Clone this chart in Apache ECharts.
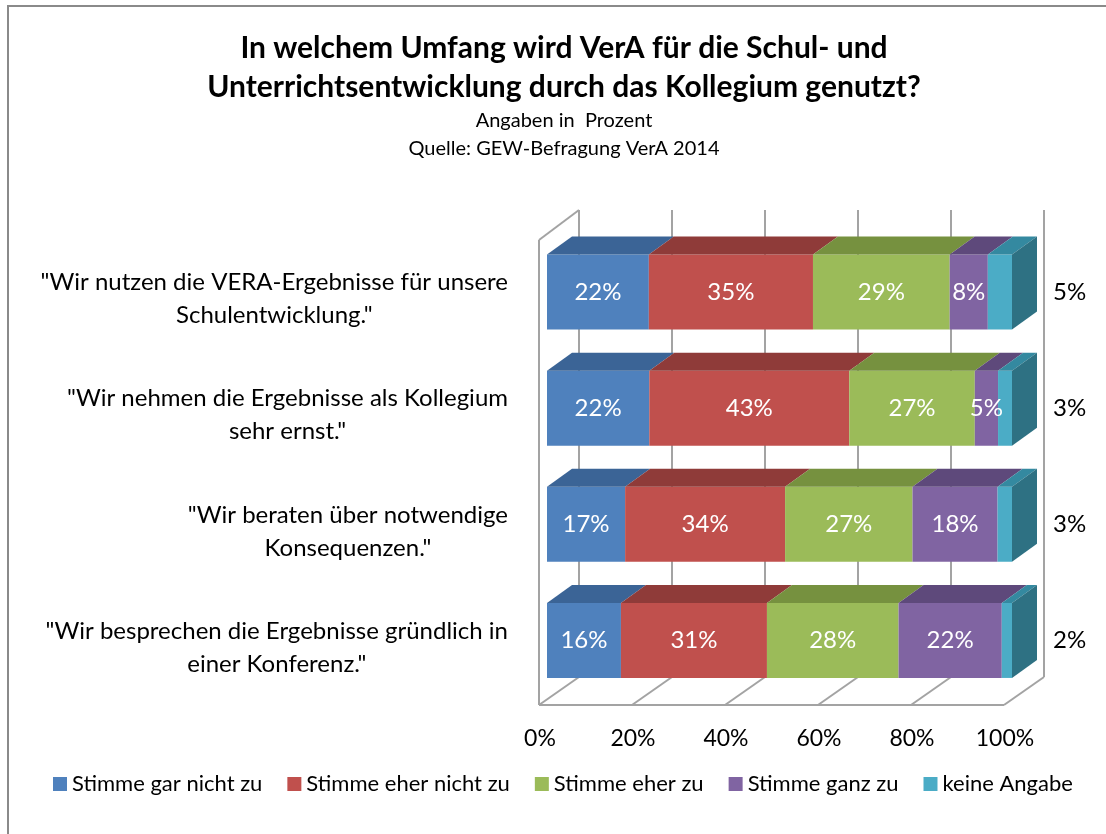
<!DOCTYPE html>
<html>
<head>
<meta charset="utf-8">
<script src="https://cdn.jsdelivr.net/npm/echarts@6/dist/echarts.min.js"></script>
<style>
html, body { margin: 0; padding: 0; background: #fff; }
#chart { width: 1106px; height: 834px; }
</style>
</head>
<body>
<div id="chart"></div>
<script>
// Kategorien (von oben nach unten)
var categories = [
    '"Wir nutzen die VERA-Ergebnisse für unsere\nSchulentwicklung."',
    '"Wir nehmen die Ergebnisse als Kollegium\nsehr ernst."',
    '"Wir beraten über notwendige\nKonsequenzen."',
    '"Wir besprechen die Ergebnisse gründlich in\neiner Konferenz."'
];
var seriesNames = ['Stimme gar nicht zu', 'Stimme eher nicht zu', 'Stimme eher zu', 'Stimme ganz zu', 'keine Angabe'];

// Werte in Prozent (aus der Grafik geschätzt, Beschriftung gerundet)
var garNichtZu  = [21.9, 22, 16.8, 15.9];
var eherNichtZu = [35.3, 43, 34.4, 31.4];
var eherZu      = [29.4, 27, 27.4, 28.3];
var ganzZu      = [8.2, 5, 18.3, 22.2];
var keineAngabe = [5.2, 3, 3.1, 2.2];
var ticks = [0, 20, 40, 60, 80, 100];

var colors    = ['#4f81bd', '#c0504d', '#9bbb59', '#8064a2', '#4bacc6'];
var topColors = ['#3b6496', '#8f3b39', '#76913f', '#5e497b', '#3489a0'];
var sideColor = '#2e7183';
var FONT = 'Lato';
var BAR_W = 75, DX = 25, DY = 18;

var allValues = [garNichtZu, eherNichtZu, eherZu, ganzZu, keineAngabe];

// Daten für die 3D-Flächen (Oberseite + rechte Seite)
var faceData = [];
categories.forEach(function (c, i) {
    var start = 0;
    allValues.forEach(function (arr, s) {
        faceData.push([start, start + arr[i], i, s]);
        start += arr[i];
    });
});

function renderFace(params, api) {
    var i = api.value(2), s = api.value(3);
    var a = api.coord([api.value(0), i]);
    var b = api.coord([api.value(1), i]);
    var yTop = a[1] - BAR_W / 2, yBot = a[1] + BAR_W / 2;
    var children = [{
        type: 'polygon',
        shape: { points: [[a[0], yTop], [b[0], yTop], [b[0] + DX, yTop - DY], [a[0] + DX, yTop - DY]] },
        style: { fill: topColors[s] }
    }];
    if (s === allValues.length - 1) {
        children.push({
            type: 'polygon',
            shape: { points: [[b[0], yTop], [b[0] + DX, yTop - DY], [b[0] + DX, yBot - DY], [b[0], yBot]] },
            style: { fill: sideColor }
        });
    }
    return { type: 'group', children: children };
}

// Rückwand, Seitenwand und Boden
function renderFrame(params, api) {
    var t = api.value(0);
    var rect = params.coordSys;
    var x = api.coord([t, 0])[0];
    var top = rect.y, bot = rect.y + rect.height;
    var lines = [
        [x + 32, top - 24, x + 32, bot - 21.5],
        [x - 8, bot + 6.5, x + 32, bot - 21.5]
    ];
    if (t === ticks[0]) {
        var xEnd = api.coord([ticks[ticks.length - 1], 0])[0];
        lines.push([x - 8, top + 6, x - 8, bot + 6.5]);
        lines.push([x - 8, top + 6, x + 32, top - 24]);
        lines.push([x - 8, bot + 6.5, xEnd - 8, bot + 6.5]);
    }
    return {
        type: 'group',
        children: lines.map(function (l) {
            return {
                type: 'line',
                shape: { x1: l[0], y1: l[1], x2: l[2], y2: l[3] },
                style: { stroke: '#a3a3a3', lineWidth: 2 }
            };
        })
    };
}

var series = [{
    type: 'custom',
    name: 'frame',
    data: ticks.map(function (t) { return [t, 0]; }),
    encode: { x: 0, y: 1 },
    renderItem: renderFrame,
    clip: false,
    silent: true,
    z: 1
}];

seriesNames.forEach(function (name, s) {
    var last = s === seriesNames.length - 1;
    series.push({
        type: 'bar',
        name: name,
        stack: 'total',
        barWidth: BAR_W,
        data: allValues[s],
        itemStyle: { color: colors[s] },
        label: {
            show: true,
            position: last ? 'right' : 'inside',
            distance: last ? 41 : 5,
            color: last ? '#000' : '#fff',
            fontFamily: FONT,
            fontSize: 24,
            formatter: function (p) { return Math.round(p.value) + '%'; }
        },
        z: 2
    });
});

series.push({
    type: 'custom',
    name: 'faces',
    data: faceData,
    encode: { x: [0, 1], y: 2 },
    renderItem: renderFace,
    clip: false,
    silent: true,
    z: 3
});

var chart = echarts.init(document.getElementById('chart'));
chart.setOption({
    backgroundColor: '#fff',
    animation: false,
    title: {
        text: 'In welchem Umfang wird VerA für die Schul- und\nUnterrichtsentwicklung durch das Kollegium genutzt?',
        subtext: 'Angaben in  Prozent\nQuelle: GEW-Befragung VerA 2014',
        left: 559,
        textAlign: 'center',
        top: 24,
        itemGap: 0,
        textStyle: { fontFamily: FONT, fontSize: 30, fontWeight: 'bold', color: '#000', lineHeight: 39 },
        subtextStyle: { fontFamily: FONT, fontSize: 20, color: '#000', lineHeight: 28 }
    },
    legend: {
        data: seriesNames,
        left: 48,
        top: 768,
        icon: 'rect',
        itemWidth: 14,
        itemHeight: 14,
        itemGap: 25,
        textStyle: { fontFamily: FONT, fontSize: 22, color: '#000' }
    },
    graphic: [{
        type: 'rect',
        shape: { x: 8, y: 6, width: 1200, height: 1000 },
        style: { fill: 'none', stroke: '#8a8a8a', lineWidth: 2 },
        silent: true,
        z: 0
    }],
    grid: { left: 547, top: 234, right: 94, bottom: 135.5 },
    xAxis: {
        type: 'value',
        min: 0,
        max: 100,
        interval: 20,
        axisLine: { show: false },
        axisTick: { show: false },
        splitLine: { show: false },
        axisLabel: {
            margin: 29,
            padding: [0, 14, 0, 0],
            fontFamily: FONT,
            fontSize: 23,
            color: '#000',
            formatter: '{value}%'
        }
    },
    yAxis: {
        type: 'category',
        inverse: true,
        data: categories,
        axisLine: { show: false },
        axisTick: { show: false },
        axisLabel: {
            margin: 39,
            padding: [14, 0, 0, 0],
            formatter: function (v) {
                return v.split('\n').map(function (l) { return '{c|' + l + '}'; }).join('\n');
            },
            rich: {
                c: { align: 'center', fontFamily: FONT, fontSize: 24, lineHeight: 33, color: '#000' }
            }
        }
    },
    series: series
});
</script>
</body>
</html>
